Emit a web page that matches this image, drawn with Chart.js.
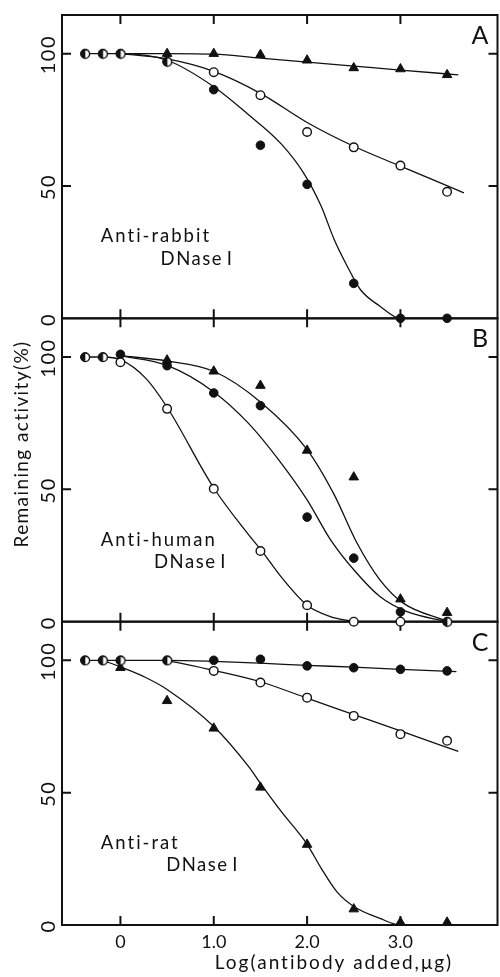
<!DOCTYPE html>
<html>
<head>
<meta charset="utf-8">
<script src="https://cdn.jsdelivr.net/npm/chart.js@4.4.1/dist/chart.umd.min.js"></script>
<style>
html, body { margin: 0; padding: 0; background: #fff; overflow: hidden; }
#wrap { width: 500px; height: 977px; overflow: hidden; }
canvas { display: block; }
</style>
</head>
<body>
<div id="wrap"><canvas id="chart" width="504" height="977"></canvas></div>
<script>
// dose axis: log(antibody added, ug)
const X = [-0.38, -0.19, 0, 0.5, 1.0, 1.5, 2.0, 2.5, 3.0, 3.5];
const X_TICKS = [0, 1, 2, 3];
const Y_TICKS = [0, 50, 100];
const PANELS = ["A", "B", "C"];
const PANEL_TEXT = [["Anti-rabbit", "DNase\u2009I"], ["Anti-human", "DNase\u2009I"], ["Anti-rat", "DNase\u2009I"]];

// measured points (triangle, open circle, filled circle)
const A_tri  = [null, null, null, 100, 100, 99.6, 97.5, 94.6, 94.2, 92];
const A_open = [100, 100, 100, 97, 93, 84.3, 70.4, 64.6, 57.7, 47.8];
const A_fill = [100, 100, 100, 97, 86.4, 65.4, 50.6, 13.2, 0, 0];

const B_tri  = [null, null, null, 98.8, 94.6, 89.2, 64.7, 54.6, 8.5, 3.4];
const B_open = [100, 100, 98, 80.4, 50.2, 26.7, 6.2, 0, 0, 0];
const B_fill = [100, 100, 101, 96.7, 86.4, 81.6, 39.5, 24, 3.7, 0];

const C_tri  = [null, null, 97.2, 84.7, 74.3, 52, 30.4, 6, 1, 1];
const C_open = [100, 100, 100, 100, 96, 91.6, 85.9, 79, 72.1, 69.6];
const C_fill = [100, 100, 100, 100, 100, 100.4, 97.9, 97.2, 96.6, 96];

// hand-drawn fitted curves
const A_tri_cx  = [0, 0.5, 1.0, 1.5, 2.0, 2.5, 3.0, 3.62];
const A_tri_cy  = [100, 100, 99.8, 98.3, 96.8, 95.3, 93.8, 92];
const A_open_cx = [0, 0.5, 1.0, 1.5, 2.0, 2.5, 3.0, 3.68];
const A_open_cy = [100, 98, 93.3, 85, 74, 65, 57.5, 47.4];
const A_fill_cx = [-0.38, 0, 0.5, 1.0, 1.37, 1.72, 1.97, 2.15, 2.29, 2.43, 2.57, 2.78, 3.0, 3.5];
const A_fill_cy = [100, 100, 97.5, 87.5, 77, 66, 54.5, 42.4, 29.8, 19.7, 10.9, 4.6, 0, 0];

const B_tri_cx  = [0, 0.5, 1.0, 1.5, 2.0, 2.29, 2.53, 2.78, 3.03, 3.49];
const B_tri_cy  = [100.5, 98.5, 94.6, 83, 65, 48, 30, 15.8, 7, 0.3];
const B_fill_cx = [0, 0.5, 1.0, 1.37, 1.72, 2.0, 2.25, 2.5, 2.78, 3.07, 3.5];
const B_fill_cy = [100.5, 96.8, 86.8, 75, 60, 46, 31, 19.6, 9.5, 3.8, 0];
const B_open_cx = [-0.38, -0.19, 0, 0.27, 0.5, 1.0, 1.37, 1.52, 1.72, 2.0, 2.25, 2.5];
const B_open_cy = [100, 100, 99, 92, 81, 50.5, 33, 26.5, 17, 6.2, 1.9, 0];

const C_fill_cx = [-0.38, 0, 0.5, 1.0, 1.5, 2.0, 2.5, 3.0, 3.6];
const C_fill_cy = [100, 100, 100, 99.6, 98.9, 98.1, 97.4, 96.6, 95.7];
const C_open_cx = [0.5, 1.0, 1.5, 2.0, 2.5, 3.0, 3.62];
const C_open_cy = [100, 96.2, 91.9, 85.7, 79.5, 73.3, 65.6];
const C_tri_cx  = [-0.19, 0, 0.27, 0.5, 1.0, 1.37, 1.5, 1.72, 2.0, 2.15, 2.32, 2.5, 2.78, 3.0, 3.5];
const C_tri_cy  = [100, 97.5, 93.5, 89, 75, 60, 53.5, 43, 30.5, 21.5, 12.5, 7, 2.5, 0, 0];

const FONT = "Lato, 'Open Sans', sans-serif";
const INK = "#111";

function halfMarker(r) {
  const c = document.createElement("canvas");
  const s = 2 * r + 4;
  c.width = c.height = s;
  const g = c.getContext("2d");
  const m = s / 2;
  g.fillStyle = "#fff";
  g.beginPath(); g.arc(m, m, r, 0, 2 * Math.PI); g.fill();
  g.fillStyle = INK;
  g.beginPath(); g.arc(m, m, r, Math.PI / 2, Math.PI * 1.5); g.closePath(); g.fill();
  g.lineWidth = 1.4; g.strokeStyle = INK;
  g.beginPath(); g.arc(m, m, r, 0, 2 * Math.PI); g.stroke();
  return c;
}
const HALF = halfMarker(4.3);

function points(vals) {
  return X.map((x, i) => vals[i] == null ? null : { x, y: vals[i] }).filter(p => p);
}
function curve(xs, ys) {
  return xs.map((x, i) => ({ x, y: ys[i] }));
}

function panelSets(axis, tri, open, fill, curves) {
  const sets = [];
  curves.forEach(([cx, cy]) => {
    sets.push({
      data: curve(cx, cy), yAxisID: axis, showLine: true, pointRadius: 0,
      borderColor: INK, borderWidth: 1.3, cubicInterpolationMode: "monotone",
      clip: false, order: 2
    });
  });
  sets.push({
    data: points(tri), yAxisID: axis, pointStyle: "triangle", pointRadius: 5.5,
    backgroundColor: INK, borderColor: INK, borderWidth: 1, clip: false, order: 1
  });
  sets.push({
    data: points(fill), yAxisID: axis, pointStyle: "circle", pointRadius: 4.3,
    backgroundColor: INK, borderColor: INK, borderWidth: 1, clip: false, order: 1
  });
  sets.push({
    data: points(open), yAxisID: axis, pointRadius: 4.3,
    pointStyle: X.map((_, i) => open[i] === fill[i] ? HALF : "circle"),
    backgroundColor: "#fff", borderColor: INK, borderWidth: 1.4, clip: false, order: 0
  });
  return sets;
}

const datasets = [
  ...panelSets("yA", A_tri, A_open, A_fill, [[A_tri_cx, A_tri_cy], [A_open_cx, A_open_cy], [A_fill_cx, A_fill_cy]]),
  ...panelSets("yB", B_tri, B_open, B_fill, [[B_tri_cx, B_tri_cy], [B_open_cx, B_open_cy], [B_fill_cx, B_fill_cy]]),
  ...panelSets("yC", C_tri, C_open, C_fill, [[C_tri_cx, C_tri_cy], [C_open_cx, C_open_cy], [C_fill_cx, C_fill_cy]])
];

function yScale(weight) {
  return {
    type: "linear", position: "left", stack: "panels", stackWeight: 1, weight,
    min: 0, max: 114.6,
    grid: { display: false }, border: { display: false },
    ticks: { display: false },
    afterBuildTicks: s => { s.ticks = Y_TICKS.map(v => ({ value: v })); },
    afterFit: s => { s.width = 62; }
  };
}

function spaced(ctx, text, x, y, spacing) {
  ctx.letterSpacing = spacing + "px";
  ctx.fillText(text, x, y);
  ctx.letterSpacing = "0px";
}

const framePlugin = {
  id: "frame",
  beforeDatasetsDraw(chart) {
    const { ctx, chartArea: ca } = chart;
    const xs = chart.scales.x;
    ctx.save();
    ctx.strokeStyle = INK;
    ctx.lineWidth = 2;
    ["yA", "yB", "yC"].forEach(id => {
      const s = chart.scales[id];
      ctx.strokeRect(ca.left, s.top, ca.right - ca.left, s.bottom - s.top);
      ctx.beginPath();
      X_TICKS.forEach(v => {
        const px = xs.getPixelForValue(v);
        ctx.moveTo(px, s.top); ctx.lineTo(px, s.top + 9);
        ctx.moveTo(px, s.bottom); ctx.lineTo(px, s.bottom - 9);
      });
      Y_TICKS.forEach(v => {
        if (v === 0) return;
        const py = s.getPixelForValue(v);
        ctx.moveTo(ca.left, py); ctx.lineTo(ca.left + 9, py);
        ctx.moveTo(ca.right, py); ctx.lineTo(ca.right - 9, py);
      });
      ctx.stroke();
    });
    ctx.restore();
  },
  afterDraw(chart) {
    const { ctx } = chart;
    const xs = chart.scales.x;
    ctx.save();
    ctx.fillStyle = INK;
    ctx.textAlign = "center";
    ctx.textBaseline = "middle";
    ["yA", "yB", "yC"].forEach((id, k) => {
      const s = chart.scales[id];
      // rotated tick labels
      ctx.font = "20px " + FONT;
      Y_TICKS.forEach(v => {
        ctx.save();
        ctx.translate(49, s.getPixelForValue(v) + 1);
        ctx.rotate(-Math.PI / 2);
        spaced(ctx, String(v), 0, 0, 1.5);
        ctx.restore();
      });
      // panel letter
      ctx.font = "25px " + FONT;
      ctx.textAlign = "center";
      ctx.fillText(PANELS[k], 480, s.top + 21);
      // antibody label
      ctx.font = "18.5px " + FONT;
      ctx.textAlign = "left";
      spaced(ctx, PANEL_TEXT[k][0], xs.getPixelForValue(-0.21), s.getPixelForValue(31), 2);
      spaced(ctx, PANEL_TEXT[k][1], xs.getPixelForValue(k === 1 ? 0.36 : (k === 0 ? 0.43 : 0.49)), s.getPixelForValue(22.5), 1.5);
      ctx.textAlign = "center";
    });
    // axis titles
    ctx.font = "19px " + FONT;
    ctx.save();
    ctx.translate(22, 444);
    ctx.rotate(-Math.PI / 2);
    spaced(ctx, "Remaining activity(%)", 0, 0, 1.4);
    ctx.restore();
    spaced(ctx, "Log(antibody added,\u03bcg)", 334, 963, 2);
    ctx.restore();
  }
};

new Chart(document.getElementById("chart"), {
  type: "scatter",
  data: { datasets },
  options: {
    responsive: false,
    animation: false,
    devicePixelRatio: 1,
    layout: { padding: { top: 15, right: 2, left: 0, bottom: 0 } },
    plugins: { legend: { display: false }, tooltip: { enabled: false } },
    scales: {
      x: {
        type: "linear", min: -0.626, max: 4.04,
        grid: { display: false, drawTicks: false }, border: { display: false },
        afterBuildTicks: s => { s.ticks = X_TICKS.map(v => ({ value: v })); },
        ticks: {
          color: INK, padding: 6, maxRotation: 0,
          font: { family: FONT, size: 18 },
          callback: v => v === 0 ? "0" : v.toFixed(1)
        },
        afterFit: s => { s.height = 52; }
      },
      yA: yScale(3),
      yB: yScale(2),
      yC: yScale(1)
    }
  },
  plugins: [framePlugin]
});
</script>
</body>
</html>
